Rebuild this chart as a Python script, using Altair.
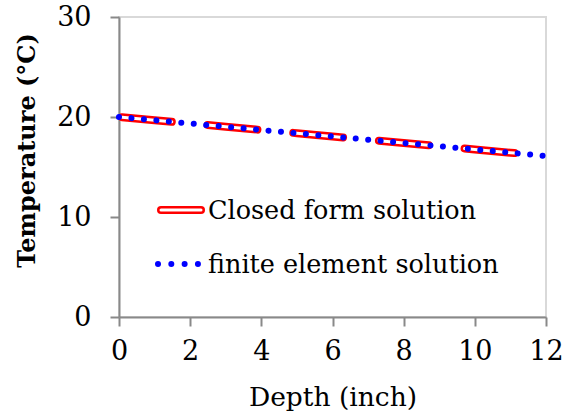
import altair as alt
import pandas as pd

# ---- data ----
depth = [0, 1, 2, 3, 4, 5, 6, 7, 8, 9, 10, 11, 12]
closed_form = [20.0, 19.68, 19.35, 19.03, 18.7, 18.38, 18.05, 17.73, 17.4, 17.08, 16.75, 16.43, 16.1]
finite_element = [20.0, 19.68, 19.35, 19.03, 18.7, 18.38, 18.05, 17.73, 17.4, 17.08, 16.75, 16.43, 16.1]
x_ticks = [0, 2, 4, 6, 8, 10, 12]
y_ticks = [0, 10, 20, 30]
legend_labels = ["Closed form solution", "finite element solution"]

df = pd.DataFrame({"Depth": depth, "Closed": closed_form, "FE": finite_element})

FONT = "DejaVu Serif"
AXIS_GREY = "#898989"

x_enc = alt.X(
    "Depth:Q",
    scale=alt.Scale(domain=[0, 12], nice=False),
    axis=alt.Axis(values=x_ticks, title="Depth (inch)", labelPadding=12, titlePadding=20,
                  titleFontWeight="normal", titleFontSize=26.5, labelFlush=False),
)
y_axis = alt.Axis(values=y_ticks, title="Temperature (°C)", labelPadding=19,
                  titleFontWeight="bold", titleFontSize=24, titleX=-80, titleY=133,
                  labelFlush=False)
y_scale = alt.Scale(domain=[0, 30], nice=False)

base = alt.Chart(df)

red = base.mark_line(color="#ff0000", strokeWidth=8, strokeCap="round", strokeJoin="round",
                     strokeDash=[50, 36], strokeDashOffset=83).encode(
    x=x_enc, y=alt.Y("Closed:Q", scale=y_scale, axis=y_axis))
white = base.mark_line(color="#ffffff", strokeWidth=3, strokeCap="round", strokeJoin="round",
                       strokeDash=[50, 36], strokeDashOffset=83).encode(
    x=x_enc, y=alt.Y("Closed:Q", scale=y_scale, axis=y_axis))
blue = base.mark_line(color="#0000ff", strokeWidth=6, strokeCap="round",
                      strokeDash=[0.01, 12.5]).encode(
    x=x_enc, y=alt.Y("FE:Q", scale=y_scale, axis=y_axis))

one = pd.DataFrame({"k": [0]})
leg_red = alt.Chart(one).mark_rule(color="#ff0000", strokeWidth=8, strokeCap="round").encode(
    x=alt.value(42), x2=alt.value(82), y=alt.value(193))
leg_white = alt.Chart(one).mark_rule(color="#ffffff", strokeWidth=3, strokeCap="round").encode(
    x=alt.value(42), x2=alt.value(82), y=alt.value(193))
leg_blue = alt.Chart(one).mark_rule(color="#0000ff", strokeWidth=6, strokeCap="round",
                                    strokeDash=[0.01, 13.3]).encode(
    x=alt.value(39), x2=alt.value(80), y=alt.value(247))
leg_t1 = alt.Chart(one).mark_text(align="left", baseline="middle", font=FONT, fontSize=25.5,
                                  color="black", text=legend_labels[0]).encode(
    x=alt.value(89), y=alt.value(194))
leg_t2 = alt.Chart(one).mark_text(align="left", baseline="middle", font=FONT, fontSize=25.5,
                                  color="black", text=legend_labels[1]).encode(
    x=alt.value(89), y=alt.value(248))

chart = alt.layer(red, white, blue, leg_red, leg_white, leg_blue, leg_t1, leg_t2).properties(
    width=427, height=300,
    autosize=alt.AutoSizeParams(type="none"),
    padding={"left": 119, "top": 17, "right": 18, "bottom": 102},
).configure_view(
    stroke="#d9d9d9", strokeWidth=2
).configure_axis(
    grid=False, domainColor=AXIS_GREY, domainWidth=2, tickColor=AXIS_GREY, tickWidth=2,
    tickSize=9, labelFont=FONT, labelFontSize=27, labelColor="black",
    titleFont=FONT, titleFontSize=24, titleColor="black",
)

chart.save("out.html", embed_options={"renderer": "svg", "actions": False})
